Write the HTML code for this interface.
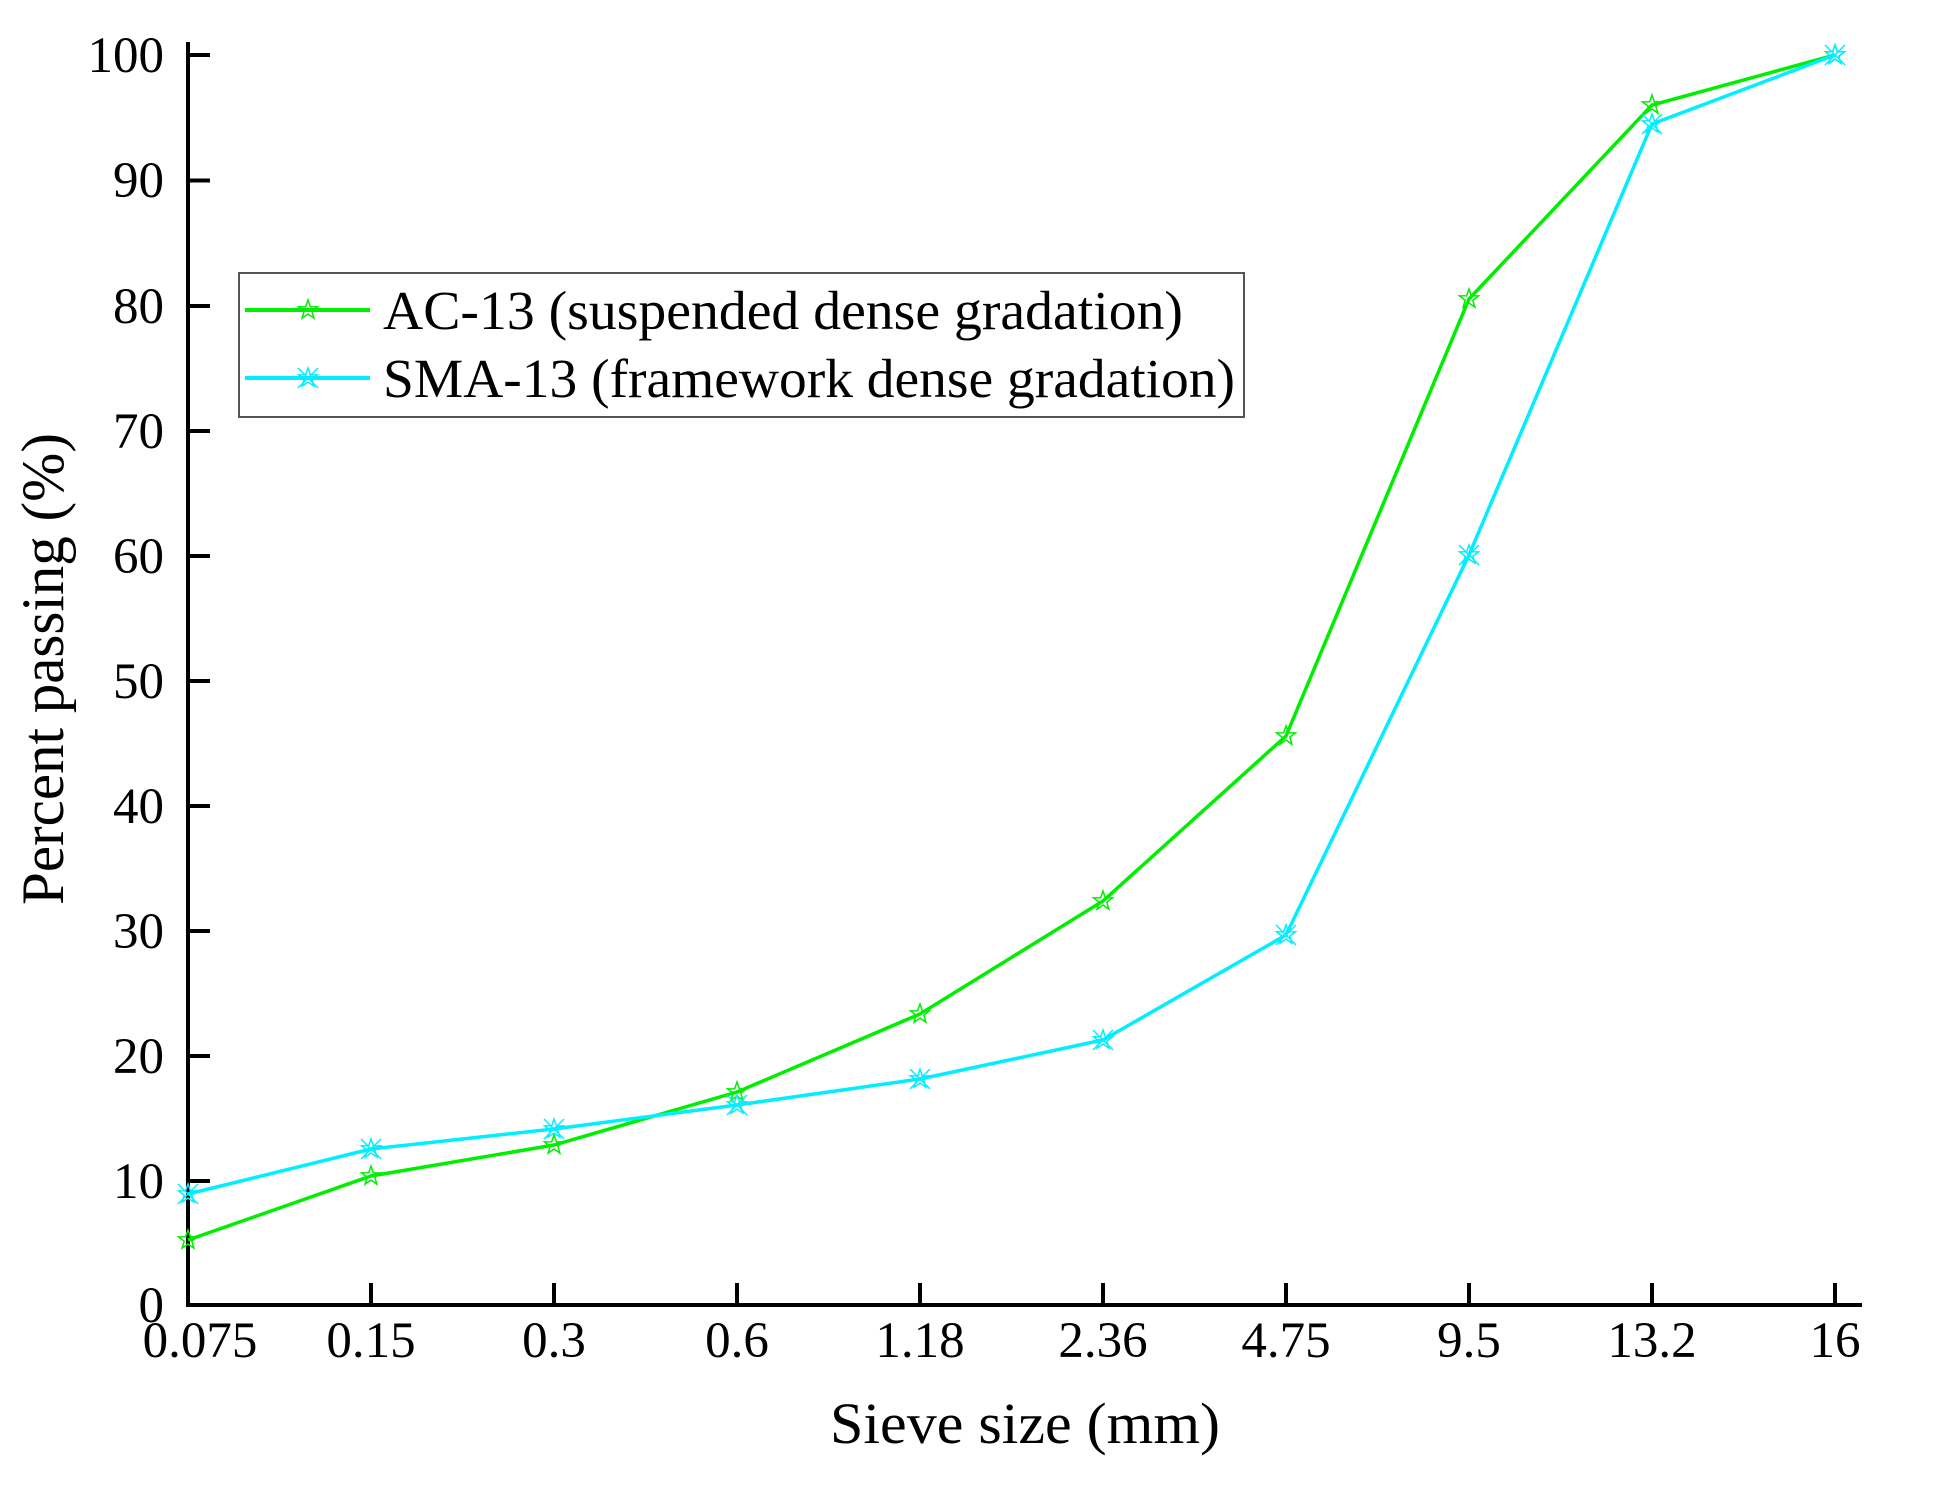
<!DOCTYPE html>
<html><head><meta charset="utf-8"><style>
html,body{margin:0;padding:0;background:#fff;}
svg{display:block;}
text{font-family:"Liberation Serif",serif;fill:#000;}
</style></head><body>
<svg width="1956" height="1495" viewBox="0 0 1956 1495" xmlns="http://www.w3.org/2000/svg">
<defs>
<path id="st" d="M0,-10 L2.35,-3.2 L9.5,-3.1 L3.8,1.2 L5.9,8.1 L0,4 L-5.9,8.1 L-3.8,1.2 L-9.5,-3.1 L-2.35,-3.2 Z" fill="none" stroke-width="1.5"/>
<g id="sx" fill="none" stroke-width="1.5"><path d="M0,-10 L2.35,-3.2 L9.5,-3.1 L3.8,1.2 L5.9,8.1 L0,4 L-5.9,8.1 L-3.8,1.2 L-9.5,-3.1 L-2.35,-3.2 Z"/><path d="M-10,-10 L10,10 M10,-10 L-10,10"/></g>
</defs>
<g stroke="#000" stroke-width="4" fill="none">
<path d="M188,42 L188,1305 L1862,1305"/>
<path d="M188,55h22M188,180.5h22M188,306h22M188,431h22M188,556h22M188,681h22M188,806h22M188,931h22M188,1056h22M188,1181h22"/>
<path d="M371,1305v-22M554,1305v-22M737,1305v-22M920,1305v-22M1103,1305v-22M1286,1305v-22M1469,1305v-22M1652,1305v-22M1835,1305v-22"/>
</g>
<g font-size="51" text-anchor="end">
<text x="164" y="72">100</text><text x="164" y="197">90</text><text x="164" y="323">80</text><text x="164" y="448">70</text><text x="164" y="573">60</text><text x="164" y="698">50</text><text x="164" y="823">40</text><text x="164" y="948">30</text><text x="164" y="1073">20</text><text x="164" y="1198">10</text><text x="164" y="1322">0</text>
</g>
<g font-size="51" text-anchor="middle">
<text x="200" y="1357">0.075</text><text x="371" y="1357">0.15</text><text x="554" y="1357">0.3</text><text x="737" y="1357">0.6</text><text x="920" y="1357">1.18</text><text x="1103" y="1357">2.36</text><text x="1286" y="1357">4.75</text><text x="1469" y="1357">9.5</text><text x="1652" y="1357">13.2</text><text x="1835" y="1357">16</text>
</g>
<text x="1025" y="1443" font-size="58" text-anchor="middle" textLength="390" lengthAdjust="spacingAndGlyphs">Sieve size (mm)</text>
<text transform="translate(63,669) rotate(-90)" font-size="60" text-anchor="middle" textLength="472" lengthAdjust="spacingAndGlyphs">Percent passing (%)</text>
<polyline fill="none" stroke="#00ee00" stroke-width="3.5" points="188,1240 371,1176 554,1145 737,1092 920,1014 1103,901 1286,736 1469,299 1652,105 1835,55"/>
<polyline fill="none" stroke="#00eeff" stroke-width="3.5" points="188,1194 371,1149 554,1129 737,1105 920,1079 1103,1040 1286,935 1469,555 1652,124 1835,55"/>
<g stroke="#00ee00">
<use href="#st" x="188" y="1240"/><use href="#st" x="371" y="1176"/><use href="#st" x="554" y="1145"/><use href="#st" x="737" y="1092"/><use href="#st" x="920" y="1014"/><use href="#st" x="1103" y="901"/><use href="#st" x="1286" y="736"/><use href="#st" x="1469" y="299"/><use href="#st" x="1652" y="105"/><use href="#st" x="1835" y="55"/>
</g>
<g stroke="#00eeff">
<use href="#sx" x="188" y="1194"/><use href="#sx" x="371" y="1149"/><use href="#sx" x="554" y="1129"/><use href="#sx" x="737" y="1105"/><use href="#sx" x="920" y="1079"/><use href="#sx" x="1103" y="1040"/><use href="#sx" x="1286" y="935"/><use href="#sx" x="1469" y="555"/><use href="#sx" x="1652" y="124"/><use href="#sx" x="1835" y="55"/>
</g>
<rect x="239" y="273" width="1005" height="144" fill="#fff" stroke="#555" stroke-width="2"/>
<line x1="245" y1="310" x2="370" y2="310" stroke="#00ee00" stroke-width="4"/>
<use href="#st" x="308" y="310" stroke="#00ee00"/>
<line x1="245" y1="378" x2="370" y2="378" stroke="#00eeff" stroke-width="4"/>
<use href="#sx" x="308" y="378" stroke="#00eeff"/>
<text x="383" y="329" font-size="55" textLength="800" lengthAdjust="spacingAndGlyphs">AC-13 (suspended dense gradation)</text>
<text x="383" y="397" font-size="55" textLength="852" lengthAdjust="spacingAndGlyphs">SMA-13 (framework dense gradation)</text>
</svg>
</body></html>
